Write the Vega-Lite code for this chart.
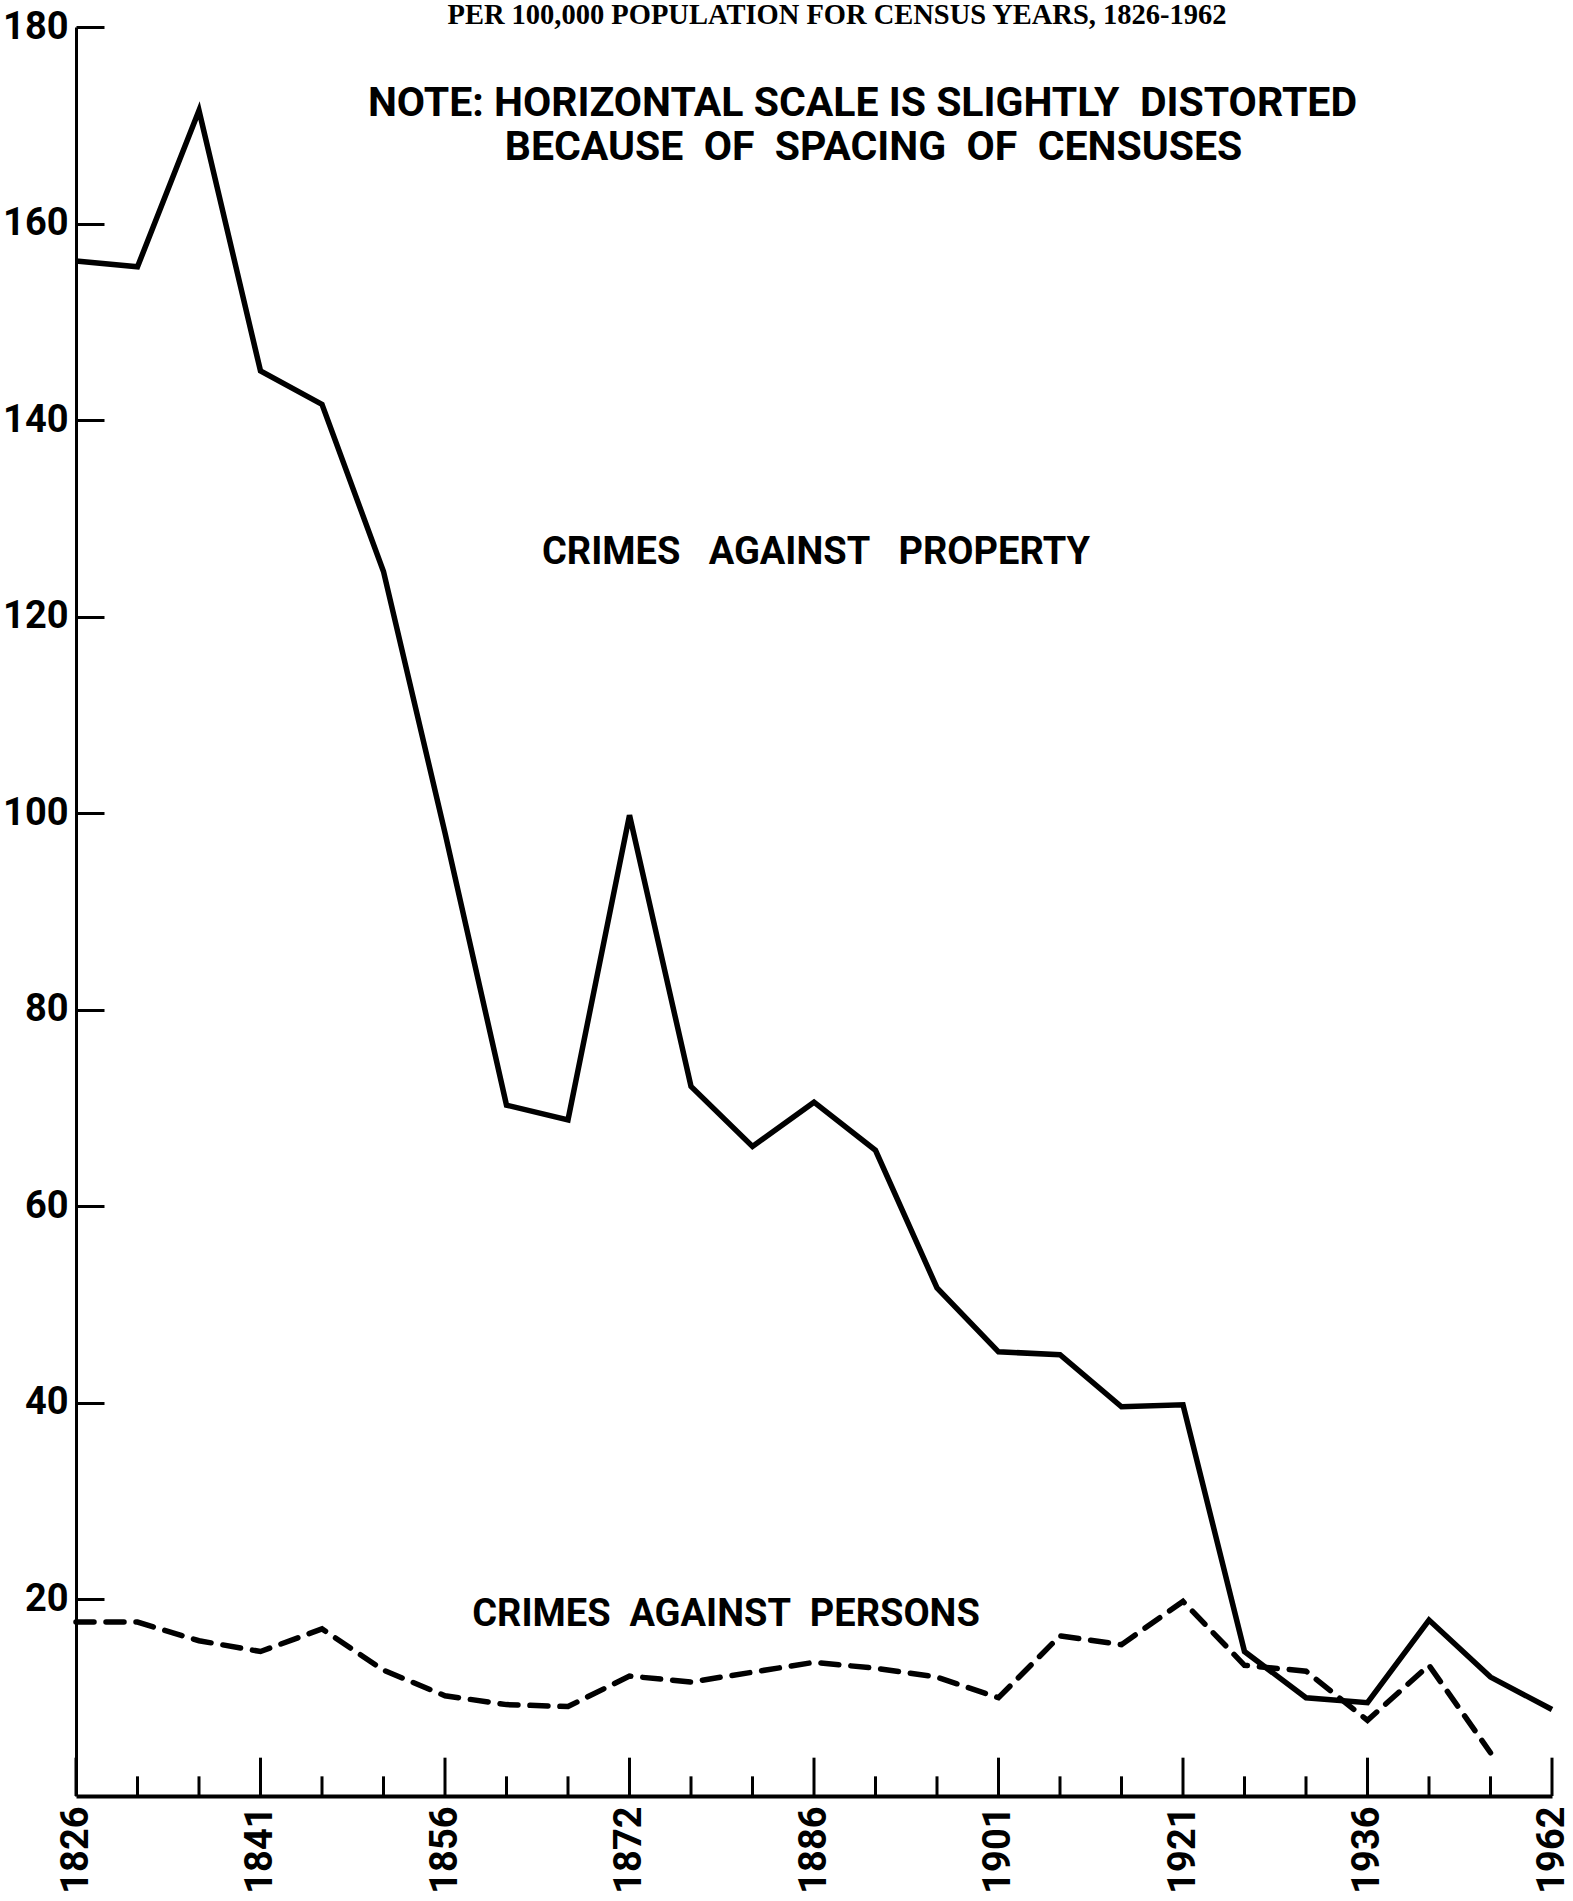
{
  "$schema": "https://vega.github.io/schema/vega-lite/v6.json",
  "width": 1476,
  "height": 1769,
  "autosize": {"type": "none"},
  "padding": {"left": 76, "top": 27, "right": 21, "bottom": 105},
  "background": "white",
  "config": {
    "view": {"stroke": null},
    "axis": {"grid": false, "labelFont": "Roboto", "labelFontWeight": "bold", "labelColor": "black", "domainColor": "black", "tickColor": "black"}
  },
  "datasets": {
    "crime": [
      {"year": 1826, "property": 156.2, "persons": 17.7},
      {"year": 1831, "property": 155.6, "persons": 17.7},
      {"year": 1836, "property": 171.5, "persons": 15.8},
      {"year": 1841, "property": 145.0, "persons": 14.7},
      {"year": 1846, "property": 141.6, "persons": 17.0},
      {"year": 1851, "property": 124.6, "persons": 12.8},
      {"year": 1856, "property": 98.0, "persons": 10.2},
      {"year": 1861, "property": 70.3, "persons": 9.3},
      {"year": 1866, "property": 68.8, "persons": 9.1},
      {"year": 1872, "property": 99.8, "persons": 12.2},
      {"year": 1876, "property": 72.2, "persons": 11.6},
      {"year": 1881, "property": 66.1, "persons": 12.6},
      {"year": 1886, "property": 70.6, "persons": 13.6},
      {"year": 1891, "property": 65.7, "persons": 13.0},
      {"year": 1896, "property": 51.7, "persons": 12.1},
      {"year": 1901, "property": 45.2, "persons": 10.0},
      {"year": 1906, "property": 44.9, "persons": 16.3},
      {"year": 1911, "property": 39.6, "persons": 15.4},
      {"year": 1921, "property": 39.8, "persons": 19.8},
      {"year": 1926, "property": 14.7, "persons": 13.3},
      {"year": 1931, "property": 10.0, "persons": 12.7},
      {"year": 1936, "property": 9.5, "persons": 7.7},
      {"year": 1946, "property": 17.9, "persons": 13.3},
      {"year": 1954, "property": 12.1, "persons": 4.4},
      {"year": 1962, "property": 8.8, "persons": null}
    ]
  },
  "data": {"name": "crime"},
  "encoding": {
    "x": {
      "field": "year",
      "type": "ordinal",
      "scale": {"type": "point", "padding": 0, "domain": [1826,1831,1836,1841,1846,1851,1856,1861,1866,1872,1876,1881,1886,1891,1896,1901,1906,1911,1921,1926,1931,1936,1946,1954,1962]},
      "axis": {
        "title": null,
        "ticks": false,
        "domainWidth": 4,
        "labelAngle": -90,
        "labelFontSize": 38,
        "labelPadding": 10,
        "labelOverlap": false,
        "labelExpr": "indexof([1826,1841,1856,1872,1886,1901,1921,1936,1962], datum.value) >= 0 ? datum.label : ''"
      }
    }
  },
  "layer": [
    {
      "transform": [{"filter": "indexof([1826,1841,1856,1872,1886,1901,1921,1936,1962], datum.year) < 0"}],
      "mark": {"type": "rule", "color": "black", "strokeWidth": 3},
      "encoding": {
        "y": {"datum": 0, "type": "quantitative", "scale": {"domain": [0, 180], "nice": false, "zero": true}, "axis": {"title": null, "values": [20,40,60,80,100,120,140,160,180], "tickSize": -28, "tickWidth": 3, "domainWidth": 3, "labelFontSize": 38, "labelPadding": 36}},
        "y2": {"datum": 2.0}
      }
    },
    {
      "transform": [{"filter": "indexof([1826,1841,1856,1872,1886,1901,1921,1936,1962], datum.year) >= 0"}],
      "mark": {"type": "rule", "color": "black", "strokeWidth": 3},
      "encoding": {
        "y": {"datum": 0, "type": "quantitative"},
        "y2": {"datum": 3.9}
      }
    },
    {
      "mark": {"type": "line", "color": "black", "strokeWidth": 5.5, "strokeJoin": "miter"},
      "encoding": {
        "y": {"field": "property", "type": "quantitative"}
      }
    },
    {
      "mark": {"type": "line", "color": "black", "strokeWidth": 5.5, "strokeDash": [18, 12], "strokeCap": "round"},
      "encoding": {
        "y": {"field": "persons", "type": "quantitative"}
      }
    },
    {
      "data": {"values": [{"label": "PER 100,000 POPULATION FOR CENSUS YEARS, 1826-1962", "year": 1886, "value": 181.2}]},
      "mark": {"type": "text", "font": "Liberation Serif", "fontWeight": "bold", "fontSize": 28.5, "color": "black", "align": "center", "baseline": "middle", "dx": 23},
      "encoding": {"text": {"field": "label"}, "y": {"field": "value", "type": "quantitative"}}
    },
    {
      "data": {"values": [{"label": "NOTE: HORIZONTAL SCALE IS SLIGHTLY\u00a0 DISTORTED", "year": 1891, "value": 172.2}]},
      "mark": {"type": "text", "font": "Roboto", "fontWeight": "bold", "fontSize": 41, "color": "black", "align": "center", "baseline": "middle", "dx": -13},
      "encoding": {"text": {"field": "label"}, "y": {"field": "value", "type": "quantitative"}}
    },
    {
      "data": {"values": [{"label": "BECAUSE\u00a0 OF\u00a0 SPACING\u00a0 OF\u00a0 CENSUSES", "year": 1891, "value": 167.7}]},
      "mark": {"type": "text", "font": "Roboto", "fontWeight": "bold", "fontSize": 41, "color": "black", "align": "center", "baseline": "middle", "dx": -2},
      "encoding": {"text": {"field": "label"}, "y": {"field": "value", "type": "quantitative"}}
    },
    {
      "data": {"values": [{"label": "CRIMES\u00a0\u00a0 AGAINST\u00a0\u00a0 PROPERTY", "year": 1886, "value": 126.5}]},
      "mark": {"type": "text", "font": "Roboto", "fontWeight": "bold", "fontSize": 38, "color": "black", "align": "center", "baseline": "middle", "dx": 2},
      "encoding": {"text": {"field": "label"}, "y": {"field": "value", "type": "quantitative"}}
    },
    {
      "data": {"values": [{"label": "CRIMES\u00a0 AGAINST\u00a0 PERSONS", "year": 1876, "value": 18.4}]},
      "mark": {"type": "text", "font": "Roboto", "fontWeight": "bold", "fontSize": 38, "color": "black", "align": "center", "baseline": "middle", "dx": 35},
      "encoding": {"text": {"field": "label"}, "y": {"field": "value", "type": "quantitative"}}
    }
  ]
}
